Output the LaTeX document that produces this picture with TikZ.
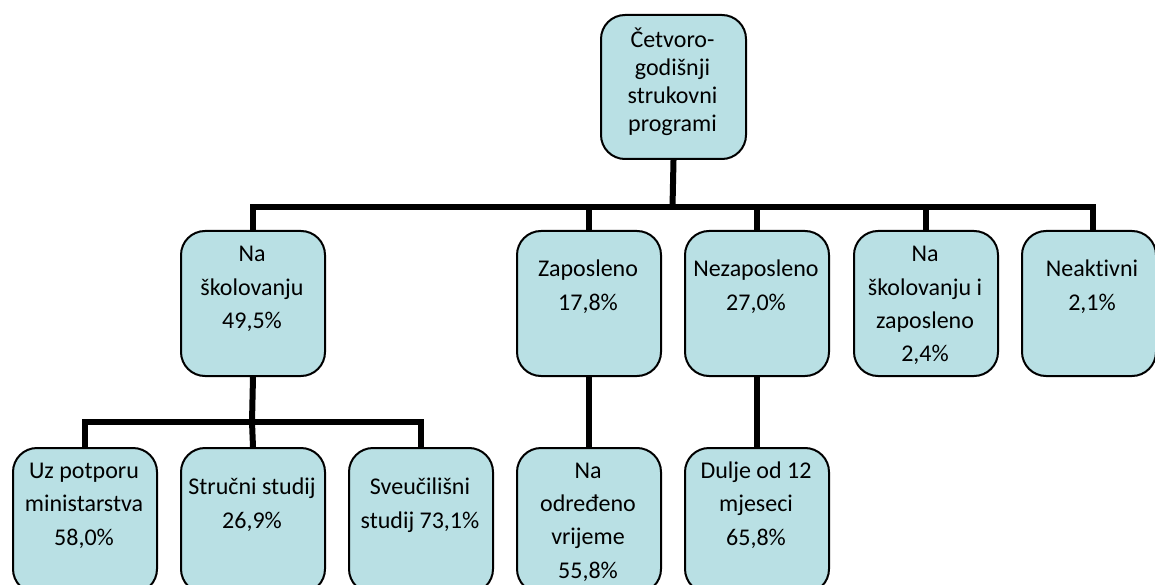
\documentclass[tikz,border=0pt]{standalone}
\usepackage{fontspec}
\setmainfont{Carlito}[Ligatures=NoCommon]
\definecolor{boxfill}{RGB}{185,224,228}
\tikzset{
  orgbox/.style={draw=black, line width=2pt, fill=boxfill, rounded corners=24pt,
    minimum width=144pt, minimum height=145pt, inner sep=0pt, anchor=north west},
  conn/.style={line width=6pt, draw=black},
  lbl/.style={align=center, inner sep=0pt, anchor=base, text=black,
    font=\fontsize{24}{33.3}\selectfont},
  lbltop/.style={lbl, font=\fontsize{24}{28.3}\selectfont}
}
\begin{document}
\begin{tikzpicture}[x=1pt,y=-1pt]
\useasboundingbox (0,0) rectangle (1155,585);
\clip (0,0) rectangle (1155,585);
% boxes
\node[orgbox, minimum width=145pt, minimum height=144pt] (top) at (600,14) {};
\node[orgbox] (n1) at (180,230) {};
\node[orgbox] (n2) at (516,230) {};
\node[orgbox] (n3) at (684,230) {};
\node[orgbox] (n4) at (853,230) {};
\node[orgbox, minimum width=134pt] (n5) at (1021,230) {};
\node[orgbox] (c1) at (12,447) {};
\node[orgbox] (c2) at (180,447) {};
\node[orgbox] (c3) at (348,447) {};
\node[orgbox] (d1) at (516,447) {};
\node[orgbox] (d2) at (684,447) {};
% bus coordinates
\coordinate (bus1) at (672.5,207);
\coordinate (bus2) at (252,422);
% connectors
\draw[conn] (top.south) -- (bus1);
\draw[conn] (n1.north) |- (bus1);
\draw[conn] (n2.north) |- (bus1);
\draw[conn] (n3.north) |- (bus1);
\draw[conn] (n4.north) |- (bus1);
\draw[conn] ([xshift=4pt]n5.north) |- (bus1);
\draw[conn] (n1.south) -- (bus2);
\draw[conn] (c1.north) |- (bus2);
\draw[conn] (c2.north) -- (bus2);
\draw[conn] (c3.north) |- (bus2);
\draw[conn] (n2.south) -- (d1.north);
\draw[conn] (n3.south) -- (d2.north);
% labels (anchored at the baseline of the last line)
\node[lbltop] (ttop) at (672.5,132) {Četvoro-\\godišnji\\strukovni\\programi};
\node[lbl] (t1) at (252,328.3) {Na\\školovanju\\49,5\%};
\node[lbl] (t2) at (588,310) {Zaposleno\\17,8\%};
\node[lbl] (t3) at (756,310) {Nezaposleno\\27,0\%};
\node[lbl] (t4) at (925,361.7) {Na\\školovanju i\\zaposleno\\2,4\%};
\node[lbl] (t5) at (1092,310) {Neaktivni\\2,1\%};
\node[lbl] (tc1) at (84,545) {Uz potporu\\ministarstva\\58,0\%};
\node[lbl] (tc2) at (252,528) {Stručni studij\\26,9\%};
\node[lbl] (tc3) at (420,528) {Sveučilišni\\studij 73,1\%};
\node[lbl] (td1) at (588,578) {Na\\određeno\\vrijeme\\55,8\%};
\node[lbl] (td2) at (756,545) {Dulje od 12\\mjeseci\\65,8\%};
\end{tikzpicture}
\end{document}
